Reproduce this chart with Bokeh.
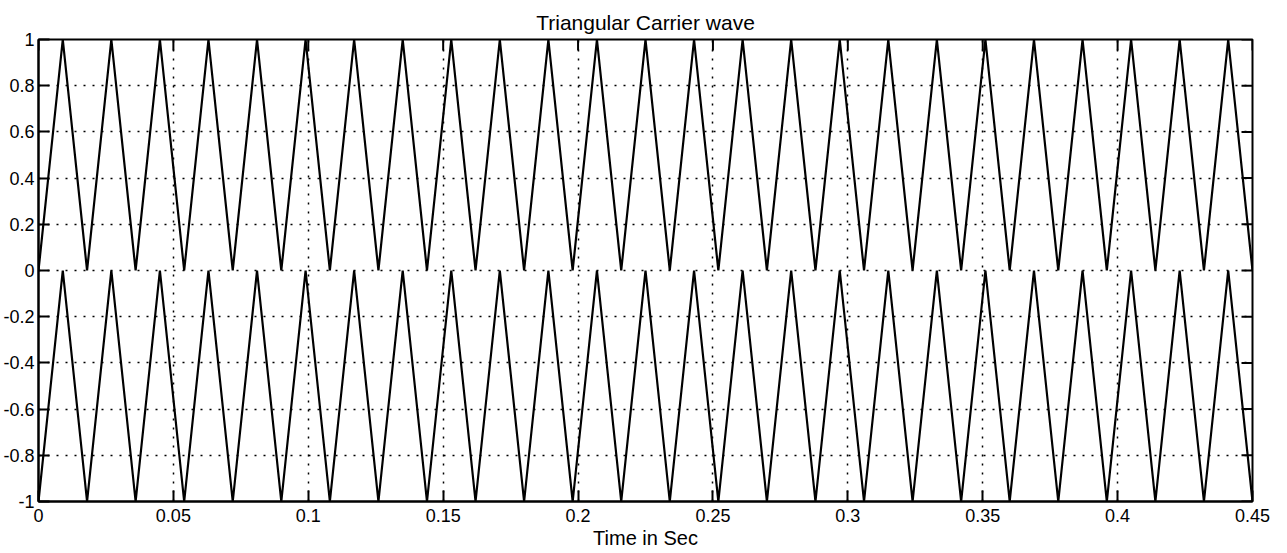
import math
from bokeh.plotting import figure
from bokeh.models import FixedTicker, Range1d
from bokeh.embed import file_html
from bokeh.resources import INLINE

# Vertex times (s) of the triangular carriers
t = [0.000, 0.009, 0.018, 0.027, 0.036, 0.045, 0.054, 0.063, 0.072, 0.081,
     0.090, 0.099, 0.108, 0.117, 0.126, 0.135, 0.144, 0.153, 0.162, 0.171,
     0.180, 0.189, 0.198, 0.207, 0.216, 0.225, 0.234, 0.243, 0.252, 0.261,
     0.270, 0.279, 0.288, 0.297, 0.306, 0.315, 0.324, 0.333, 0.342, 0.351,
     0.360, 0.369, 0.378, 0.387, 0.396, 0.405, 0.414, 0.423, 0.432, 0.441,
     0.450]
upper_carrier = [0, 1, 0, 1, 0, 1, 0, 1, 0, 1,
                 0, 1, 0, 1, 0, 1, 0, 1, 0, 1,
                 0, 1, 0, 1, 0, 1, 0, 1, 0, 1,
                 0, 1, 0, 1, 0, 1, 0, 1, 0, 1,
                 0, 1, 0, 1, 0, 1, 0, 1, 0, 1,
                 0]
lower_carrier = [-1, 0, -1, 0, -1, 0, -1, 0, -1, 0,
                 -1, 0, -1, 0, -1, 0, -1, 0, -1, 0,
                 -1, 0, -1, 0, -1, 0, -1, 0, -1, 0,
                 -1, 0, -1, 0, -1, 0, -1, 0, -1, 0,
                 -1, 0, -1, 0, -1, 0, -1, 0, -1, 0,
                 -1]

x_ticks = [0, 0.05, 0.1, 0.15, 0.2, 0.25, 0.3, 0.35, 0.4, 0.45]
x_tick_labels = ["0", "0.05", "0.1", "0.15", "0.2", "0.25", "0.3", "0.35", "0.4", "0.45"]
y_ticks = [-1, -0.8, -0.6, -0.4, -0.2, 0, 0.2, 0.4, 0.6, 0.8, 1]
y_tick_labels = ["-1", "-0.8", "-0.6", "-0.4", "-0.2", "0", "0.2", "0.4", "0.6", "0.8", "1"]

FONT = "Liberation Sans"
X_MIN, X_MAX, Y_MIN, Y_MAX = 0, 0.45, -1, 1

p = figure(width=1287, height=553, output_backend="svg", toolbar_location=None,
           x_range=Range1d(X_MIN, X_MAX), y_range=Range1d(Y_MIN, Y_MAX),
           title="Triangular Carrier wave",
           min_border_left=38, min_border_right=35, min_border_top=39, min_border_bottom=52)

p.background_fill_color = "white"
p.border_fill_color = "white"
p.outline_line_color = "black"
p.outline_line_width = 2

p.title.text_font = FONT
p.title.text_font_size = "21px"
p.title.text_font_style = "normal"
p.title.align = "center"
p.title.text_color = "black"
p.title.standoff = 12

for ax in p.xaxis:
    ax.ticker = FixedTicker(ticks=x_ticks)
    ax.major_label_overrides = dict(zip(x_ticks, x_tick_labels))
    ax.axis_label = "Time in Sec"
    ax.axis_label_text_font = FONT
    ax.axis_label_text_font_size = "20px"
    ax.axis_label_text_font_style = "normal"
    ax.axis_label_text_color = "black"
    ax.axis_label_standoff = 2
    ax.major_label_standoff = 7

for ax in p.yaxis:
    ax.ticker = FixedTicker(ticks=y_ticks)
    ax.major_label_overrides = dict(zip(y_ticks, y_tick_labels))
    ax.major_label_standoff = 4

for ax in list(p.xaxis) + list(p.yaxis):
    ax.major_label_text_font = FONT
    ax.major_label_text_font_size = "18px"
    ax.major_label_text_color = "black"
    ax.axis_line_color = "black"
    ax.axis_line_width = 2
    ax.major_tick_in = 11
    ax.major_tick_out = 0
    ax.major_tick_line_color = "black"
    ax.major_tick_line_width = 2
    ax.minor_tick_line_color = None

for g in list(p.xgrid) + list(p.ygrid):
    g.grid_line_color = "black"
    g.grid_line_dash = "2 7"
    g.grid_line_width = 1.5
    g.grid_line_alpha = 1.0
p.xgrid.ticker = FixedTicker(ticks=x_ticks)
p.ygrid.ticker = FixedTicker(ticks=y_ticks)

# inward tick marks on the top and right edges of the box
p.ray(x=x_ticks, y=[Y_MAX] * len(x_ticks), length=11, length_units="screen",
      angle=-math.pi / 2, line_color="black", line_width=2)
p.ray(x=[X_MAX] * len(y_ticks), y=y_ticks, length=11, length_units="screen",
      angle=math.pi, line_color="black", line_width=2)

p.line(t, upper_carrier, line_color="black", line_width=2.2)
p.line(t, lower_carrier, line_color="black", line_width=2.2)

open("out.html", "w").write(file_html(p, INLINE))
